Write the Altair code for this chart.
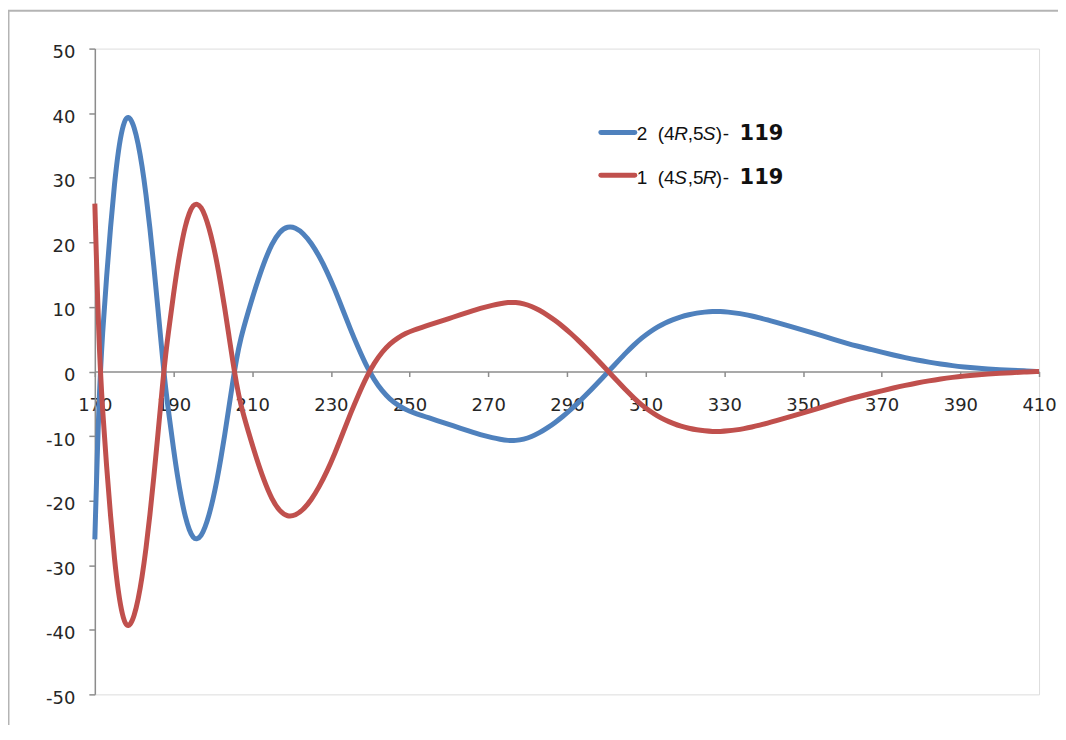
import altair as alt
import pandas as pd

# ---------------- data ----------------
wavelength = [
    170, 171, 172, 173, 174, 175, 176, 177, 178, 179, 180, 181, 182, 183, 184,
    185, 186, 187, 188, 189, 190, 191, 192, 193, 194, 195, 196, 197, 198, 199,
    200, 201, 202, 203, 204, 205, 206, 207, 209, 211, 213, 215, 217, 219, 221,
    223, 225, 227, 229, 231, 233, 235, 237, 239, 241, 243, 245, 247, 249, 251,
    253, 255, 257, 259, 261, 263, 265, 267, 269, 271, 273, 275, 277, 279, 281,
    283, 285, 287, 289, 291, 293, 295, 297, 299, 301, 303, 305, 307, 309, 311,
    313, 315, 317, 319, 321, 323, 325, 327, 329, 331, 333, 335, 337, 339, 341,
    343, 345, 347, 349, 352, 355, 358, 361, 364, 367, 370, 373, 376, 379, 382,
    385, 388, 391, 394, 397, 400, 403, 406, 410,
]

# series "1 (4S,5R)-119" (red)
series1_red = [
    26.0, 4.5, -6.5, -14.8, -22.5, -29.2, -34.4, -37.8, -39.5, -39.3, -37.9, -35.4, -31.9, -27.5, -22.3,
    -16.3, -10.0, -3.4, 2.8, 7.4, 12.0, 16.2, 19.7, 22.6, 24.6, 25.8, 26.0, 25.5, 24.2, 22.3,
    19.9, 17.0, 13.6, 9.9, 5.9, 1.8, -1.9, -5.0, -9.3, -13.3, -16.9, -19.8, -21.7, -22.5, -22.3,
    -21.4, -19.9, -17.9, -15.5, -12.7, -9.6, -6.5, -3.6, -0.9, 1.3, 3.0, 4.3, 5.2, 5.9, 6.4,
    6.8, 7.2, 7.6, 8.0, 8.4, 8.8, 9.2, 9.6, 9.95, 10.25, 10.5, 10.7, 10.7, 10.5, 10.1,
    9.5, 8.75, 7.9, 6.95, 5.9, 4.75, 3.55, 2.3, 1.0, -0.3, -1.6, -2.9, -4.1, -5.2, -6.1,
    -6.9, -7.55, -8.05, -8.5, -8.8, -9.05, -9.2, -9.3, -9.3, -9.2, -9.05, -8.85, -8.6, -8.3, -8.0,
    -7.65, -7.3, -6.95, -6.6, -6.05, -5.5, -4.95, -4.4, -3.9, -3.45, -3.0, -2.55, -2.15, -1.78, -1.45,
    -1.15, -0.9, -0.7, -0.52, -0.38, -0.27, -0.18, -0.1, 0.0,
]

# series "2 (4R,5S)-119" (blue)
series2_blue = [
    -26.0, -4.5, 6.5, 14.8, 22.5, 29.2, 34.4, 37.8, 39.5, 39.3, 37.9, 35.4, 31.9, 27.5, 22.3,
    16.3, 10.0, 3.4, -2.8, -7.4, -12.0, -16.2, -19.7, -22.6, -24.6, -25.8, -26.0, -25.5, -24.2, -22.3,
    -19.9, -17.0, -13.6, -9.9, -5.9, -1.8, 1.9, 5.0, 9.3, 13.3, 16.9, 19.8, 21.7, 22.5, 22.3,
    21.4, 19.9, 17.9, 15.5, 12.7, 9.6, 6.5, 3.6, 0.9, -1.3, -3.0, -4.3, -5.2, -5.9, -6.4,
    -6.8, -7.2, -7.6, -8.0, -8.4, -8.8, -9.2, -9.6, -9.95, -10.25, -10.5, -10.7, -10.7, -10.5, -10.1,
    -9.5, -8.75, -7.9, -6.95, -5.9, -4.75, -3.55, -2.3, -1.0, 0.3, 1.6, 2.9, 4.1, 5.2, 6.1,
    6.9, 7.55, 8.05, 8.5, 8.8, 9.05, 9.2, 9.3, 9.3, 9.2, 9.05, 8.85, 8.6, 8.3, 8.0,
    7.65, 7.3, 6.95, 6.6, 6.05, 5.5, 4.95, 4.4, 3.9, 3.45, 3.0, 2.55, 2.15, 1.78, 1.45,
    1.15, 0.9, 0.7, 0.52, 0.38, 0.27, 0.18, 0.1, 0.0,
]

x_ticks = [170, 190, 210, 230, 250, 270, 290, 310, 330, 350, 370, 390, 410]
y_ticks = [-50, -40, -30, -20, -10, 0, 10, 20, 30, 40, 50]

df = pd.DataFrame({"wl": wavelength, "s1": series1_red, "s2": series2_blue})

# ---------------- styling ----------------
W, H = 946, 647
BLUE = "#4F81BD"
RED = "#C0504D"
AXIS_GRAY = "#8c8c8c"
LABEL = "#262626"
FONT = "DejaVu Sans"
LEG_FONT = "Liberation Sans"

xscale = alt.Scale(domain=[170, 410], nice=False, zero=False)
yscale = alt.Scale(domain=[-50, 50], nice=False, zero=False)

x_axis = alt.Axis(
    values=x_ticks, offset=-H / 2, title=None, grid=False,
    domainColor=AXIS_GRAY, domainWidth=1.5, tickColor=AXIS_GRAY, tickWidth=1.5,
    tickSize=5, labelFont=FONT, labelFontSize=18, labelColor=LABEL,
    labelPadding=20, labelFlush=False, labelOverlap=False,
    labelExpr="'' + datum.value",
)
y_axis = alt.Axis(
    values=y_ticks, title=None, grid=False,
    domainColor=AXIS_GRAY, domainWidth=1.5, tickColor=AXIS_GRAY, tickWidth=1.5,
    tickSize=6, labelFont=FONT, labelFontSize=18, labelColor=LABEL,
    labelPadding=14, labelOffset=4, labelFlush=False, labelOverlap=False,
    labelExpr="'' + datum.value",
)

base = alt.Chart(df)
blue_line = base.mark_line(color=BLUE, strokeWidth=5, interpolate="basis").encode(
    x=alt.X("wl:Q", scale=xscale, axis=x_axis),
    y=alt.Y("s2:Q", scale=yscale, axis=y_axis),
)
red_line = base.mark_line(color=RED, strokeWidth=5, interpolate="basis").encode(
    x=alt.X("wl:Q", scale=xscale, axis=x_axis),
    y=alt.Y("s1:Q", scale=yscale, axis=y_axis),
)

one = alt.Data(values=[{}])

# frame (border of the original chart object)
frame_top = alt.Chart(one).mark_rule(color="#b4b4b4", strokeWidth=2).encode(
    x=alt.value(-87), x2=alt.value(W + 30), y=alt.value(-38)
)
frame_left = alt.Chart(one).mark_rule(color="#b4b4b4", strokeWidth=2).encode(
    x=alt.value(-86.5), y=alt.value(-38), y2=alt.value(H + 60)
)

# legend
def leg_line(color, y):
    return alt.Chart(one).mark_rule(color=color, strokeWidth=5, strokeCap="round").encode(
        x=alt.value(507), x2=alt.value(541), y=alt.value(y)
    )

def piece(txt, x, y, style="normal", weight="normal", size=19, font=LEG_FONT):
    return alt.Chart(one).mark_text(
        text=txt, align="left", baseline="alphabetic", font=font,
        fontSize=size, fontStyle=style, fontWeight=weight, color="#111111",
    ).encode(x=alt.value(x), y=alt.value(y))

legend_rows = [
    (BLUE, 84, 91.5, ["2", "(4", "R", ",5", "S", ")", "-", "119"]),
    (RED, 127, 135.5, ["1", "(4", "S", ",5", "R", ")", "-", "119"]),
]
piece_x = [543, 564, 580.5, 594, 609, 622, 629, 646]
piece_style = ["normal", "normal", "italic", "normal", "italic", "normal", "normal", "normal"]
piece_weight = ["normal", "normal", "normal", "normal", "normal", "normal", "normal", "bold"]
piece_size = [19, 19, 19, 19, 19, 19, 19, 21]
piece_font = [LEG_FONT] * 7 + [FONT]

legend_layers = []
for color, ly, ty, texts in legend_rows:
    legend_layers.append(leg_line(color, ly))
    for t, px, st, wt, sz, fn in zip(texts, piece_x, piece_style, piece_weight, piece_size, piece_font):
        legend_layers.append(piece(t, px, ty, st, wt, sz, fn))

chart = alt.layer(
    blue_line, red_line, frame_top, frame_left, *legend_layers
).properties(
    width=W, height=H,
    padding={"left": 87, "top": 40, "right": 19, "bottom": 30},
    autosize=alt.AutoSizeParams(type="none"),
).configure_view(stroke=None).configure(background="white")

chart.save("out.html", embed_options={"renderer": "svg", "actions": False})
